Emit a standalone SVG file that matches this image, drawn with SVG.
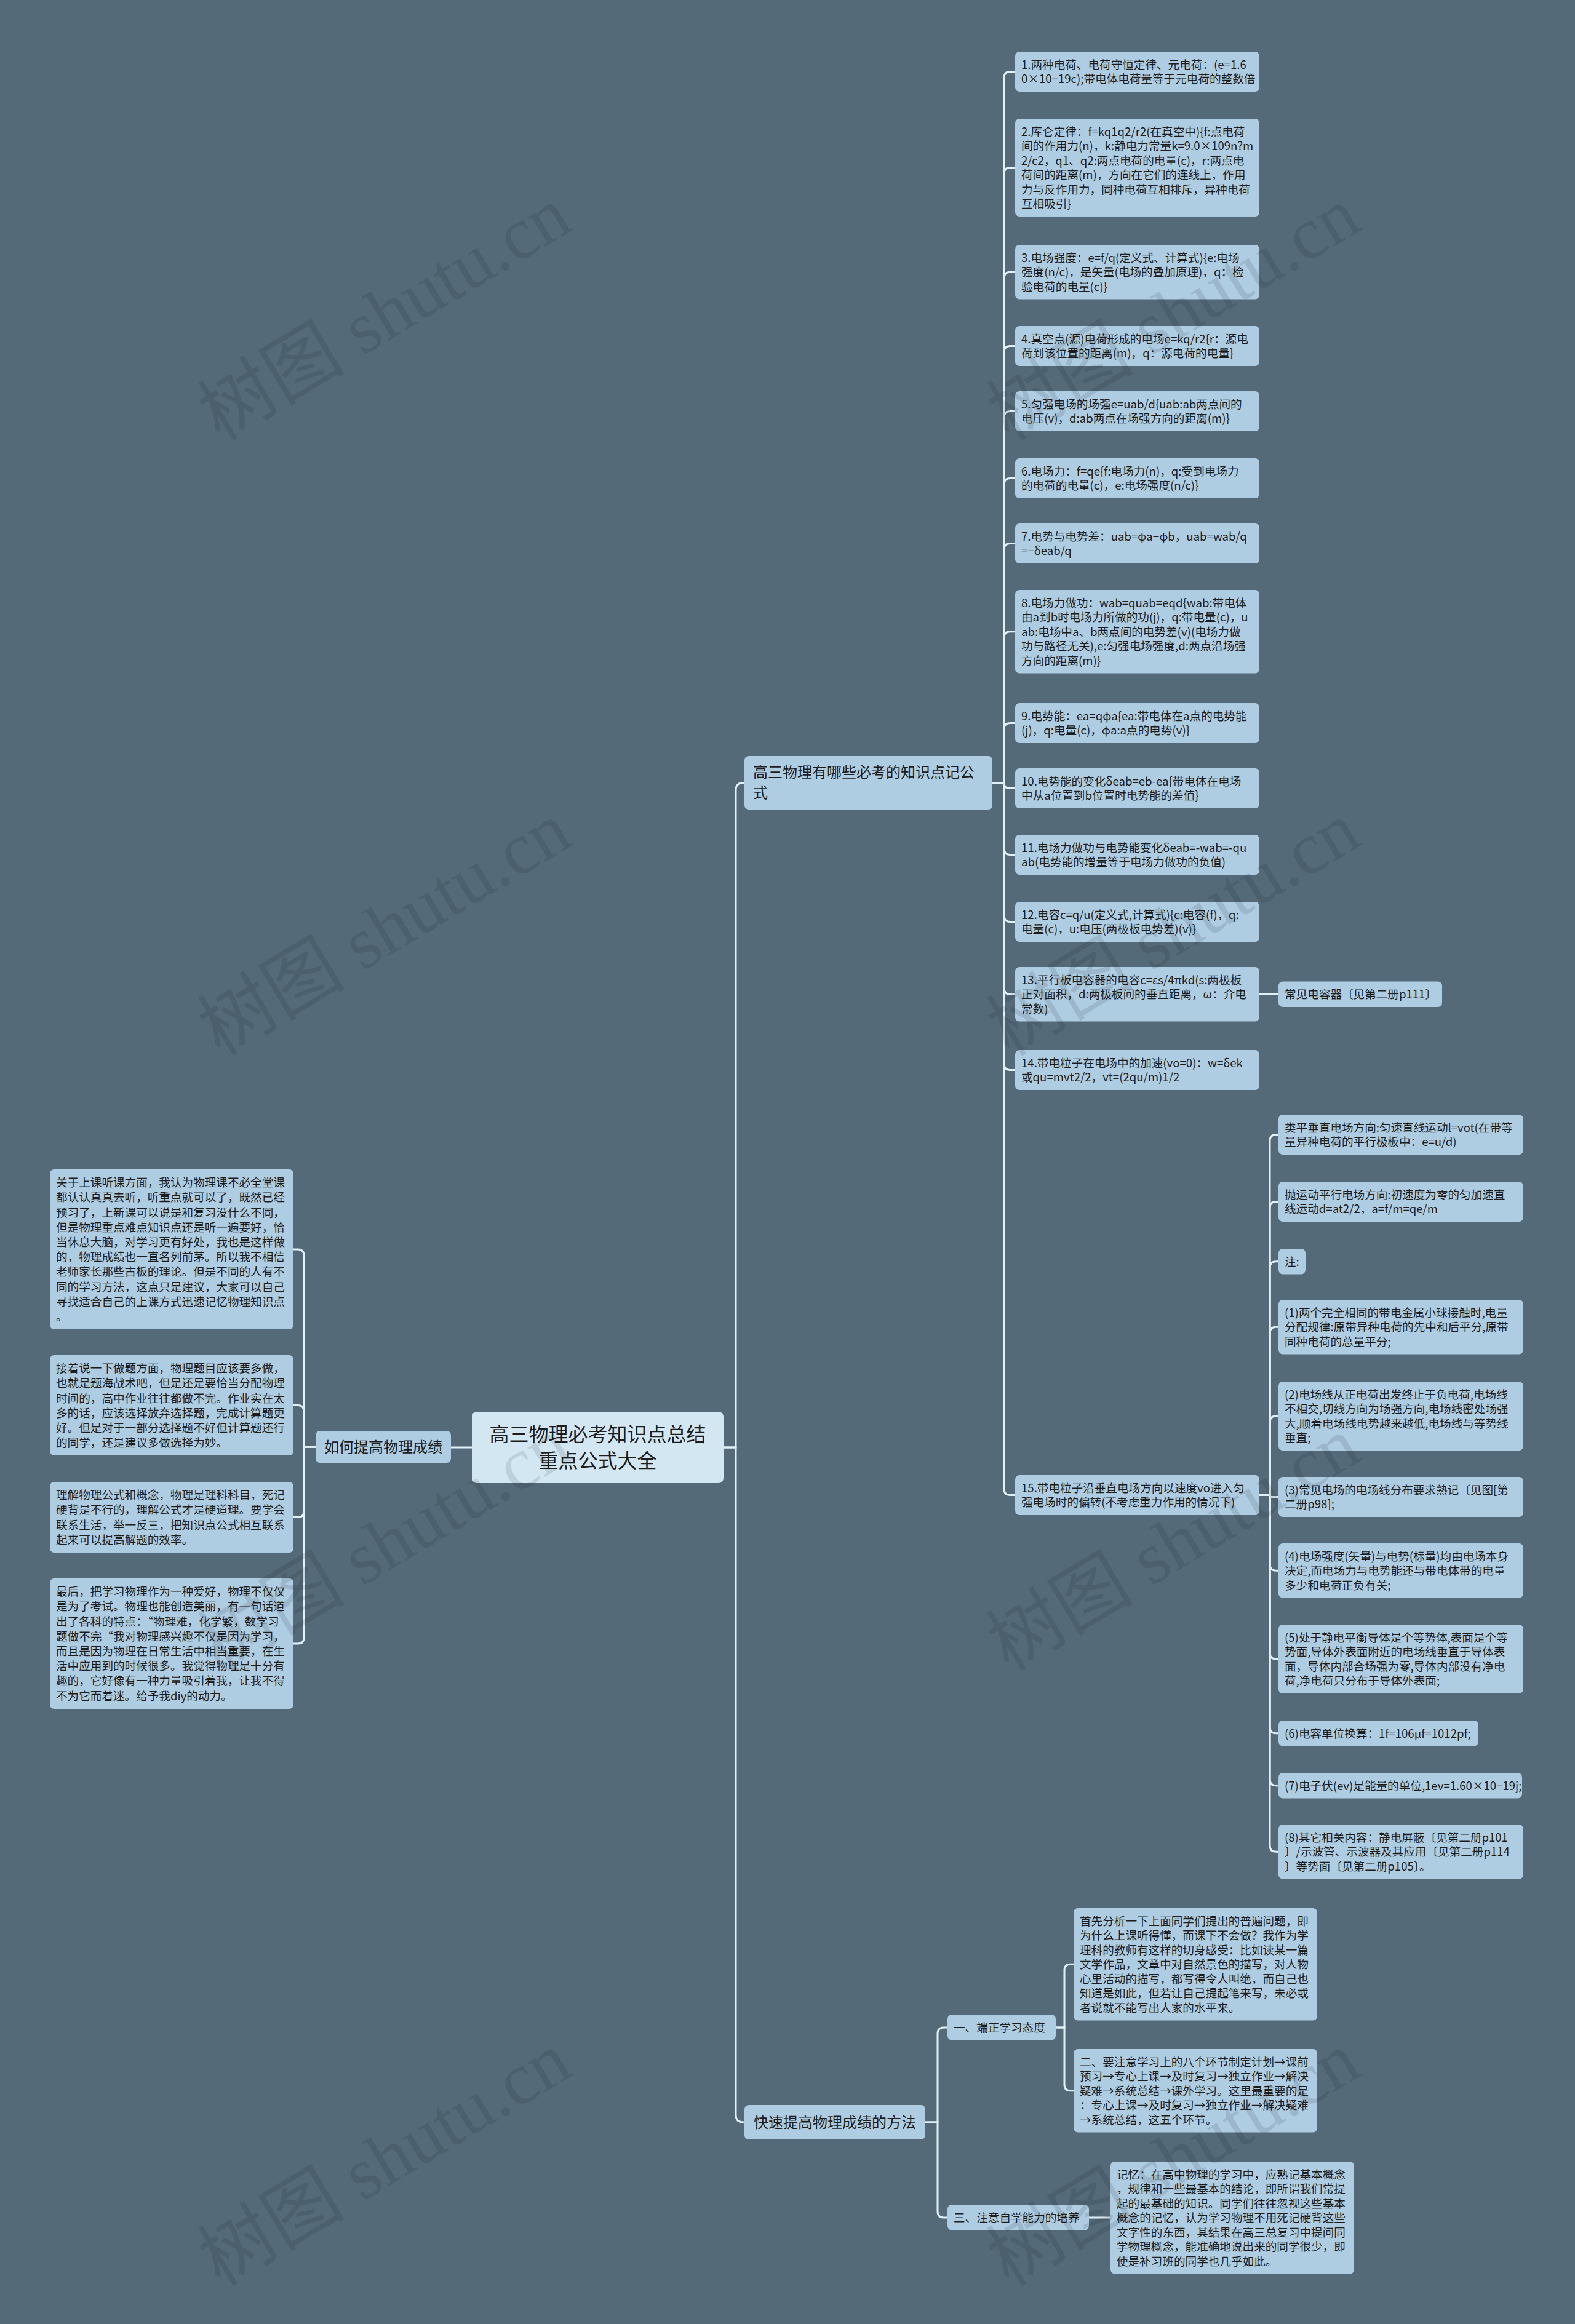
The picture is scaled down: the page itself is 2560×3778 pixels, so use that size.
<svg xmlns="http://www.w3.org/2000/svg" width="2560" height="3778" viewBox="0 0 2560 3778">
<style>
.bg{fill:#546a79}
.n rect{fill:#aecce2}
.root rect{fill:#d3e7f3}
text{font-family:"Noto Sans CJK SC","Noto Sans",sans-serif;fill:#1c1c1c}
.t{font-size:18.6px}
.l1{font-size:24px}
.rt{font-size:32px}
.c path{fill:none;stroke:#e2f0f8;stroke-width:3}
.wm{font-family:"Liberation Serif","Noto Sans CJK SC",serif;font-size:120px;fill:#000;fill-opacity:.1}
</style>
<rect class="bg" x="0" y="0" width="2560" height="3778"/>

<g class="c" id="connectors">
<path d="M767 2353H733"/>
<path d="M1176 2353H1196V1284.5Q1196 1272.5 1208 1272.5H1210"/>
<path d="M1176 2353H1196V3438Q1196 3450 1208 3450H1210"/>
<path d="M513 2352H494V2041Q494 2031 484 2031H477"/>
<path d="M513 2352H494V2294.5Q494 2284.5 484 2284.5H477"/>
<path d="M513 2352H494V2456.5Q494 2466.5 484 2466.5H477"/>
<path d="M513 2352H494V2662Q494 2672 484 2672H477"/>
<path d="M1613 1272.5H1632V126.5Q1632 116.5 1642 116.5H1650"/>
<path d="M1613 1272.5H1632V282.5Q1632 272.5 1642 272.5H1650"/>
<path d="M1613 1272.5H1632V452.25Q1632 442.25 1642 442.25H1650"/>
<path d="M1613 1272.5H1632V572.5Q1632 562.5 1642 562.5H1650"/>
<path d="M1613 1272.5H1632V678.5Q1632 668.5 1642 668.5H1650"/>
<path d="M1613 1272.5H1632V787.5Q1632 777.5 1642 777.5H1650"/>
<path d="M1613 1272.5H1632V893.5Q1632 883.5 1642 883.5H1650"/>
<path d="M1613 1272.5H1632V1036.75Q1632 1026.75 1642 1026.75H1650"/>
<path d="M1613 1272.5H1632V1185.5Q1632 1175.5 1642 1175.5H1650"/>
<path d="M1613 1272.5H1632Q1632 1281.5 1641 1281.5H1650"/>
<path d="M1613 1272.5H1632V1379.5Q1632 1389.5 1642 1389.5H1650"/>
<path d="M1613 1272.5H1632V1488.5Q1632 1498.5 1642 1498.5H1650"/>
<path d="M1613 1272.5H1632V1606.25Q1632 1616.25 1642 1616.25H1650"/>
<path d="M1613 1272.5H1632V1729.5Q1632 1739.5 1642 1739.5H1650"/>
<path d="M1613 1272.5H1632V2420.5Q1632 2430.5 1642 2430.5H1650"/>
<path d="M2047 1616.25H2078"/>
<path d="M2047 2430.5H2064V1854.5Q2064 1844.5 2074 1844.5H2078"/>
<path d="M2047 2430.5H2064V1963.5Q2064 1953.5 2074 1953.5H2078"/>
<path d="M2047 2430.5H2064V2060.75Q2064 2050.75 2074 2050.75H2078"/>
<path d="M2047 2430.5H2064V2167.25Q2064 2157.25 2074 2157.25H2078"/>
<path d="M2047 2430.5H2064V2312Q2064 2302 2074 2302H2078"/>
<path d="M2047 2430.5H2064Q2064 2433.5 2067 2433.5H2078"/>
<path d="M2047 2430.5H2064V2543.25Q2064 2553.25 2074 2553.25H2078"/>
<path d="M2047 2430.5H2064V2687Q2064 2697 2074 2697H2078"/>
<path d="M2047 2430.5H2064V2807.75Q2064 2817.75 2074 2817.75H2078"/>
<path d="M2047 2430.5H2064V2892.75Q2064 2902.75 2074 2902.75H2078"/>
<path d="M2047 2430.5H2064V3000.25Q2064 3010.25 2074 3010.25H2078"/>
<path d="M1504 3450H1524V3306Q1524 3296 1534 3296H1540"/>
<path d="M1504 3450H1524V3595Q1524 3605 1534 3605H1540"/>
<path d="M1716 3296H1730V3203.25Q1730 3193.25 1740 3193.25H1745"/>
<path d="M1716 3296H1730V3388.75Q1730 3398.75 1740 3398.75H1745"/>
<path d="M1770 3605H1805"/>
</g>

<g id="root" class="n root">
<rect x="767" y="2295" width="409" height="116" rx="8"/>
<text class="rt" text-anchor="middle"><tspan x="971.5" y="2343">高三物理必考知识点总结</tspan><tspan x="971.5" y="2386">重点公式大全</tspan></text>
</g>

<g id="how" class="n">
<rect x="513" y="2326" width="220" height="52" rx="7"/>
<text class="l1" x="527" y="2361">如何提高物理成绩</text>
</g>

<g id="formulas" class="n">
<rect x="1210" y="1229" width="403" height="87" rx="7"/>
<text class="l1"><tspan x="1224" y="1263.5">高三物理有哪些必考的知识点记公</tspan><tspan x="1224" y="1296.5">式</tspan></text>
</g>

<g id="methods" class="n">
<rect x="1210" y="3422" width="294" height="56" rx="7"/>
<text class="l1" x="1225" y="3459">快速提高物理成绩的方法</text>
</g>

<g id="f1" class="n"><rect x="1650" y="84" width="397" height="65" rx="7"/>
<text class="t"><tspan x="1660" y="111.75">1.两种电荷、电荷守恒定律、元电荷：(e=1.6</tspan><tspan x="1660" y="135.25">0×10−19c);带电体电荷量等于元电荷的整数倍</tspan></text></g>

<g id="f2" class="n"><rect x="1650" y="193" width="397" height="159" rx="7"/>
<text class="t"><tspan x="1660" y="220.75">2.库仑定律：f=kq1q2/r2(在真空中){f:点电荷</tspan><tspan x="1660" y="244.25">间的作用力(n)，k:静电力常量k=9.0×109n?m</tspan><tspan x="1660" y="267.75">2/c2，q1、q2:两点电荷的电量(c)，r:两点电</tspan><tspan x="1660" y="291.25">荷间的距离(m)，方向在它们的连线上，作用</tspan><tspan x="1660" y="314.75">力与反作用力，同种电荷互相排斥，异种电荷</tspan><tspan x="1660" y="338.25">互相吸引}</tspan></text></g>

<g id="f3" class="n"><rect x="1650" y="398" width="397" height="88.5" rx="7"/>
<text class="t"><tspan x="1660" y="425.75">3.电场强度：e=f/q(定义式、计算式){e:电场</tspan><tspan x="1660" y="449.25">强度(n/c)，是矢量(电场的叠加原理)，q：检</tspan><tspan x="1660" y="472.75">验电荷的电量(c)}</tspan></text></g>

<g id="f4" class="n"><rect x="1650" y="530" width="397" height="65" rx="7"/>
<text class="t"><tspan x="1660" y="557.75">4.真空点(源)电荷形成的电场e=kq/r2{r：源电</tspan><tspan x="1660" y="581.25">荷到该位置的距离(m)，q：源电荷的电量}</tspan></text></g>

<g id="f5" class="n"><rect x="1650" y="636" width="397" height="65" rx="7"/>
<text class="t"><tspan x="1660" y="663.75">5.匀强电场的场强e=uab/d{uab:ab两点间的</tspan><tspan x="1660" y="687.25">电压(v)，d:ab两点在场强方向的距离(m)}</tspan></text></g>

<g id="f6" class="n"><rect x="1650" y="745" width="397" height="65" rx="7"/>
<text class="t"><tspan x="1660" y="772.75">6.电场力：f=qe{f:电场力(n)，q:受到电场力</tspan><tspan x="1660" y="796.25">的电荷的电量(c)，e:电场强度(n/c)}</tspan></text></g>

<g id="f7" class="n"><rect x="1650" y="851" width="397" height="65" rx="7"/>
<text class="t"><tspan x="1660" y="878.75">7.电势与电势差：uab=φa−φb，uab=wab/q</tspan><tspan x="1660" y="902.25">=−δeab/q</tspan></text></g>

<g id="f8" class="n"><rect x="1650" y="959" width="397" height="135.5" rx="7"/>
<text class="t"><tspan x="1660" y="986.75">8.电场力做功：wab=quab=eqd{wab:带电体</tspan><tspan x="1660" y="1010.25">由a到b时电场力所做的功(j)，q:带电量(c)，u</tspan><tspan x="1660" y="1033.75">ab:电场中a、b两点间的电势差(v)(电场力做</tspan><tspan x="1660" y="1057.25">功与路径无关),e:匀强电场强度,d:两点沿场强</tspan><tspan x="1660" y="1080.75">方向的距离(m)}</tspan></text></g>

<g id="f9" class="n"><rect x="1650" y="1143" width="397" height="65" rx="7"/>
<text class="t"><tspan x="1660" y="1170.75">9.电势能：ea=qφa{ea:带电体在a点的电势能</tspan><tspan x="1660" y="1194.25">(j)，q:电量(c)，φa:a点的电势(v)}</tspan></text></g>

<g id="f10" class="n"><rect x="1650" y="1249" width="397" height="65" rx="7"/>
<text class="t"><tspan x="1660" y="1276.75">10.电势能的变化δeab=eb-ea{带电体在电场</tspan><tspan x="1660" y="1300.25">中从a位置到b位置时电势能的差值}</tspan></text></g>

<g id="f11" class="n"><rect x="1650" y="1357" width="397" height="65" rx="7"/>
<text class="t"><tspan x="1660" y="1384.75">11.电场力做功与电势能变化δeab=-wab=-qu</tspan><tspan x="1660" y="1408.25">ab(电势能的增量等于电场力做功的负值)</tspan></text></g>

<g id="f12" class="n"><rect x="1650" y="1466" width="397" height="65" rx="7"/>
<text class="t"><tspan x="1660" y="1493.75">12.电容c=q/u(定义式,计算式){c:电容(f)，q:</tspan><tspan x="1660" y="1517.25">电量(c)，u:电压(两极板电势差)(v)}</tspan></text></g>

<g id="f13" class="n"><rect x="1650" y="1572" width="397" height="88.5" rx="7"/>
<text class="t"><tspan x="1660" y="1599.75">13.平行板电容器的电容c=εs/4πkd(s:两极板</tspan><tspan x="1660" y="1623.25">正对面积，d:两极板间的垂直距离，ω：介电</tspan><tspan x="1660" y="1646.75">常数)</tspan></text></g>

<g id="f13a" class="n"><rect x="2078" y="1595.5" width="266" height="41.5" rx="7"/>
<text class="t" x="2088" y="1623.25">常见电容器〔见第二册p111〕</text></g>

<g id="f14" class="n"><rect x="1650" y="1707" width="397" height="65" rx="7"/>
<text class="t"><tspan x="1660" y="1734.75">14.带电粒子在电场中的加速(vo=0)：w=δek</tspan><tspan x="1660" y="1758.25">或qu=mvt2/2，vt=(2qu/m)1/2</tspan></text></g>

<g id="f15" class="n"><rect x="1650" y="2398" width="397" height="65" rx="7"/>
<text class="t"><tspan x="1660" y="2425.75">15.带电粒子沿垂直电场方向以速度vo进入匀</tspan><tspan x="1660" y="2449.25">强电场时的偏转(不考虑重力作用的情况下)</tspan></text></g>

<g id="f15a" class="n"><rect x="2078" y="1812" width="398" height="65" rx="7"/>
<text class="t"><tspan x="2088" y="1839.75">类平垂直电场方向:匀速直线运动l=vot(在带等</tspan><tspan x="2088" y="1863.25">量异种电荷的平行极板中：e=u/d)</tspan></text></g>

<g id="f15b" class="n"><rect x="2078" y="1921" width="398" height="65" rx="7"/>
<text class="t"><tspan x="2088" y="1948.75">抛运动平行电场方向:初速度为零的匀加速直</tspan><tspan x="2088" y="1972.25">线运动d=at2/2，a=f/m=qe/m</tspan></text></g>

<g id="f15c" class="n"><rect x="2078" y="2030" width="44" height="41.5" rx="7"/>
<text class="t" x="2088" y="2057.75">注:</text></g>

<g id="f15d" class="n"><rect x="2078" y="2113" width="398" height="88.5" rx="7"/>
<text class="t"><tspan x="2088" y="2140.75">(1)两个完全相同的带电金属小球接触时,电量</tspan><tspan x="2088" y="2164.25">分配规律:原带异种电荷的先中和后平分,原带</tspan><tspan x="2088" y="2187.75">同种电荷的总量平分;</tspan></text></g>

<g id="f15e" class="n"><rect x="2078" y="2246" width="398" height="112" rx="7"/>
<text class="t"><tspan x="2088" y="2273.75">(2)电场线从正电荷出发终止于负电荷,电场线</tspan><tspan x="2088" y="2297.25">不相交,切线方向为场强方向,电场线密处场强</tspan><tspan x="2088" y="2320.75">大,顺着电场线电势越来越低,电场线与等势线</tspan><tspan x="2088" y="2344.25">垂直;</tspan></text></g>

<g id="f15f" class="n"><rect x="2078" y="2401" width="398" height="65" rx="7"/>
<text class="t"><tspan x="2088" y="2428.75">(3)常见电场的电场线分布要求熟记〔见图[第</tspan><tspan x="2088" y="2452.25">二册p98];</tspan></text></g>

<g id="f15g" class="n"><rect x="2078" y="2509" width="398" height="88.5" rx="7"/>
<text class="t"><tspan x="2088" y="2536.75">(4)电场强度(矢量)与电势(标量)均由电场本身</tspan><tspan x="2088" y="2560.25">决定,而电场力与电势能还与带电体带的电量</tspan><tspan x="2088" y="2583.75">多少和电荷正负有关;</tspan></text></g>

<g id="f15h" class="n"><rect x="2078" y="2641" width="398" height="112" rx="7"/>
<text class="t"><tspan x="2088" y="2668.75">(5)处于静电平衡导体是个等势体,表面是个等</tspan><tspan x="2088" y="2692.25">势面,导体外表面附近的电场线垂直于导体表</tspan><tspan x="2088" y="2715.75">面，导体内部合场强为零,导体内部没有净电</tspan><tspan x="2088" y="2739.25">荷,净电荷只分布于导体外表面;</tspan></text></g>

<g id="f15i" class="n"><rect x="2078" y="2797" width="325" height="41.5" rx="7"/>
<text class="t" x="2088" y="2824.75">(6)电容单位换算：1f=106μf=1012pf;</text></g>

<g id="f15j" class="n"><rect x="2078" y="2882" width="396" height="41.5" rx="7"/>
<text class="t" x="2088" y="2909.75">(7)电子伏(ev)是能量的单位,1ev=1.60×10−19j;</text></g>

<g id="f15k" class="n"><rect x="2078" y="2966" width="398" height="88.5" rx="7"/>
<text class="t"><tspan x="2088" y="2993.75">(8)其它相关内容：静电屏蔽〔见第二册p101</tspan><tspan x="2088" y="3017.25">〕/示波管、示波器及其应用〔见第二册p114</tspan><tspan x="2088" y="3040.75">〕等势面〔见第二册p105〕。</tspan></text></g>

<g id="h1" class="n"><rect x="81" y="1901" width="396" height="260" rx="7"/>
<text class="t"><tspan x="91" y="1929.1">关于上课听课方面，我认为物理课不必全堂课</tspan><tspan x="91" y="1953.3">都认认真真去听，听重点就可以了，既然已经</tspan><tspan x="91" y="1977.5">预习了，上新课可以说是和复习没什么不同，</tspan><tspan x="91" y="2001.7">但是物理重点难点知识点还是听一遍要好，恰</tspan><tspan x="91" y="2025.9">当休息大脑，对学习更有好处，我也是这样做</tspan><tspan x="91" y="2050.1">的，物理成绩也一直名列前茅。所以我不相信</tspan><tspan x="91" y="2074.3">老师家长那些古板的理论。但是不同的人有不</tspan><tspan x="91" y="2098.5">同的学习方法，这点只是建议，大家可以自己</tspan><tspan x="91" y="2122.7">寻找适合自己的上课方式迅速记忆物理知识点</tspan><tspan x="91" y="2146.9">。</tspan></text></g>

<g id="h2" class="n"><rect x="81" y="2203" width="396" height="163" rx="7"/>
<text class="t"><tspan x="91" y="2231.1">接着说一下做题方面，物理题目应该要多做，</tspan><tspan x="91" y="2255.3">也就是题海战术吧，但是还是要恰当分配物理</tspan><tspan x="91" y="2279.5">时间的，高中作业往往都做不完。作业实在太</tspan><tspan x="91" y="2303.7">多的话，应该选择放弃选择题，完成计算题更</tspan><tspan x="91" y="2327.9">好。但是对于一部分选择题不好但计算题还行</tspan><tspan x="91" y="2352.1">的同学，还是建议多做选择为妙。</tspan></text></g>

<g id="h3" class="n"><rect x="81" y="2409" width="396" height="115" rx="7"/>
<text class="t"><tspan x="91" y="2437.1">理解物理公式和概念，物理是理科科目，死记</tspan><tspan x="91" y="2461.3">硬背是不行的，理解公式才是硬道理。要学会</tspan><tspan x="91" y="2485.5">联系生活，举一反三，把知识点公式相互联系</tspan><tspan x="91" y="2509.7">起来可以提高解题的效率。</tspan></text></g>

<g id="h4" class="n"><rect x="81" y="2566" width="396" height="212" rx="7"/>
<text class="t"><tspan x="91" y="2594.1">最后，把学习物理作为一种爱好，物理不仅仅</tspan><tspan x="91" y="2618.3">是为了考试。物理也能创造美丽，有一句话道</tspan><tspan x="91" y="2642.5">出了各科的特点：“物理难，化学繁，数学习</tspan><tspan x="91" y="2666.7">题做不完“我对物理感兴趣不仅是因为学习，</tspan><tspan x="91" y="2690.9">而且是因为物理在日常生活中相当重要，在生</tspan><tspan x="91" y="2715.1">活中应用到的时候很多。我觉得物理是十分有</tspan><tspan x="91" y="2739.3">趣的，它好像有一种力量吸引着我，让我不得</tspan><tspan x="91" y="2763.5">不为它而着迷。给予我diy的动力。</tspan></text></g>

<g id="m1" class="n"><rect x="1540" y="3275" width="176" height="41.5" rx="7"/>
<text class="t" x="1550" y="3302.75">一、端正学习态度</text></g>

<g id="m1a" class="n"><rect x="1745" y="3102" width="396" height="182.5" rx="7"/>
<text class="t"><tspan x="1755" y="3129.75">首先分析一下上面同学们提出的普遍问题，即</tspan><tspan x="1755" y="3153.25">为什么上课听得懂，而课下不会做？我作为学</tspan><tspan x="1755" y="3176.75">理科的教师有这样的切身感受：比如读某一篇</tspan><tspan x="1755" y="3200.25">文学作品，文章中对自然景色的描写，对人物</tspan><tspan x="1755" y="3223.75">心里活动的描写，都写得令人叫绝，而自己也</tspan><tspan x="1755" y="3247.25">知道是如此，但若让自己提起笔来写，未必或</tspan><tspan x="1755" y="3270.75">者说就不能写出人家的水平来。</tspan></text></g>

<g id="m1b" class="n"><rect x="1745" y="3331" width="396" height="135.5" rx="7"/>
<text class="t"><tspan x="1755" y="3358.75">二、要注意学习上的八个环节制定计划→课前</tspan><tspan x="1755" y="3382.25">预习→专心上课→及时复习→独立作业→解决</tspan><tspan x="1755" y="3405.75">疑难→系统总结→课外学习。这里最重要的是</tspan><tspan x="1755" y="3429.25">：专心上课→及时复习→独立作业→解决疑难</tspan><tspan x="1755" y="3452.75">→系统总结，这五个环节。</tspan></text></g>

<g id="m2" class="n"><rect x="1540" y="3584" width="230" height="41.5" rx="7"/>
<text class="t" x="1550" y="3611.75">三、注意自学能力的培养</text></g>

<g id="m2a" class="n"><rect x="1805" y="3514" width="396" height="182.5" rx="7"/>
<text class="t"><tspan x="1815" y="3541.75">记忆：在高中物理的学习中，应熟记基本概念</tspan><tspan x="1815" y="3565.25">，规律和一些最基本的结论，即所谓我们常提</tspan><tspan x="1815" y="3588.75">起的最基础的知识。同学们往往忽视这些基本</tspan><tspan x="1815" y="3612.25">概念的记忆，认为学习物理不用死记硬背这些</tspan><tspan x="1815" y="3635.75">文字性的东西，其结果在高三总复习中提问同</tspan><tspan x="1815" y="3659.25">学物理概念，能准确地说出来的同学很少，即</tspan><tspan x="1815" y="3682.75">使是补习班的同学也几乎如此。</tspan></text></g>

<g id="watermarks">
<text class="wm" text-anchor="middle" transform="translate(646 545) rotate(-31)">树图 shutu.cn</text>
<text class="wm" text-anchor="middle" transform="translate(1928 545) rotate(-31)">树图 shutu.cn</text>
<text class="wm" text-anchor="middle" transform="translate(646 1545) rotate(-31)">树图 shutu.cn</text>
<text class="wm" text-anchor="middle" transform="translate(1928 1545) rotate(-31)">树图 shutu.cn</text>
<text class="wm" text-anchor="middle" transform="translate(646 2545) rotate(-31)">树图 shutu.cn</text>
<text class="wm" text-anchor="middle" transform="translate(1928 2545) rotate(-31)">树图 shutu.cn</text>
<text class="wm" text-anchor="middle" transform="translate(646 3545) rotate(-31)">树图 shutu.cn</text>
<text class="wm" text-anchor="middle" transform="translate(1928 3545) rotate(-31)">树图 shutu.cn</text>
</g>
</svg>
